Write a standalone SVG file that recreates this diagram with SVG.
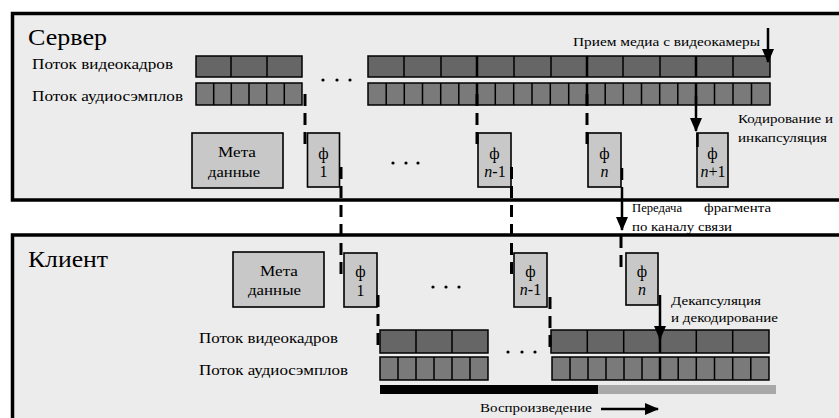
<svg xmlns="http://www.w3.org/2000/svg" width="839" height="418" viewBox="0 0 839 418">
<defs>
<style>
.t{font-family:"Liberation Serif","DejaVu Serif",serif;fill:#000}
.s13{font-size:13px}
.s14{font-size:14px}
.s15{font-size:15px}
.s16{font-size:16px}
.big{font-size:24px}
.panel{fill:#ececec;stroke:#000;stroke-width:3.5}
.vid{fill:#666;stroke:#000;stroke-width:1.5}
.aud{fill:#7a7a7a;stroke:#000;stroke-width:1.5}
.sep{fill:none;stroke:#000;stroke-width:1.5}
.fb{fill:none;stroke:#000;stroke-width:2.5}
.frag{fill:#c8c8c8;stroke:#000;stroke-width:1.6}
.dash{fill:none;stroke:#000;stroke-width:3;stroke-dasharray:12 7}
.solid{fill:none;stroke:#000;stroke-width:2.5}
.arr{fill:none;stroke:#000;stroke-width:2.5;marker-end:url(#ah)}
.dot{fill:#000}
</style>
<marker id="ah" viewBox="0 0 14 12" refX="13" refY="6" markerWidth="14" markerHeight="12" markerUnits="userSpaceOnUse" orient="auto">
<path d="M0,0 L14,6 L0,12 z" fill="#000"/>
</marker>
</defs>
<rect width="839" height="418" fill="#fff"/>

<g id="server">
<rect class="panel" x="12.5" y="13.5" width="840" height="186.5"/>
<text class="t big" x="28" y="45" textLength="79" lengthAdjust="spacingAndGlyphs">Сервер</text>
<text class="t s14" x="32" y="69" textLength="141" lengthAdjust="spacingAndGlyphs">Поток видеокадров</text>
<text class="t s14" x="32" y="101" textLength="151" lengthAdjust="spacingAndGlyphs">Поток аудиосэмплов</text>
<text class="t s13" x="573" y="46" textLength="187" lengthAdjust="spacingAndGlyphs">Прием медиа с видеокамеры</text>
<text class="t s13" x="738" y="123" textLength="95" lengthAdjust="spacingAndGlyphs">Кодирование и</text>
<text class="t s13" x="738" y="142" textLength="89" lengthAdjust="spacingAndGlyphs">инкапсуляция</text>
</g>

<g id="server-video">
<rect class="vid" x="196" y="56" width="106" height="21"/>
<path class="sep" d="M231,56V77M267,56V77"/>
<rect class="vid" x="368" y="56" width="402" height="21"/>
<path class="sep" d="M404,56V77M441,56V77M514,56V77M551,56V77M623,56V77M660,56V77M733,56V77"/>
<path class="fb" d="M477,56V77M587,56V77M696,56V77"/>
</g>

<g id="server-audio">
<rect class="aud" x="196" y="83" width="106" height="22"/>
<path class="sep" d="M213.7,83V105M231.3,83V105M249,83V105M266.7,83V105M284.3,83V105"/>
<rect class="aud" x="368" y="83" width="402" height="22"/>
<path class="sep" d="M386.2,83V105M404.3,83V105M422.5,83V105M440.7,83V105M458.8,83V105M495.3,83V105M513.7,83V105M532,83V105M550.3,83V105M568.7,83V105M605.2,83V105M623.3,83V105M641.5,83V105M659.7,83V105M677.8,83V105M714.5,83V105M733,83V105M751.5,83V105"/>
<path class="fb" d="M477,83V105M587,83V105M696,83V105"/>
</g>

<g id="server-dots">
<circle class="dot" cx="323" cy="80" r="1.6"/><circle class="dot" cx="337" cy="80" r="1.6"/><circle class="dot" cx="350" cy="80" r="1.6"/>
<circle class="dot" cx="393" cy="163" r="1.6"/><circle class="dot" cx="406" cy="163" r="1.6"/><circle class="dot" cx="418" cy="163" r="1.6"/>
</g>

<g id="s-meta">
<rect class="frag" x="192" y="133" width="91" height="55"/>
<text class="t s15" x="218" y="157" textLength="38" lengthAdjust="spacingAndGlyphs">Мета</text>
<text class="t s15" x="208" y="177" textLength="52" lengthAdjust="spacingAndGlyphs">данные</text>
</g>
<g id="s-f1">
<rect class="frag" x="307.5" y="133" width="32" height="54"/>
<text class="t s16" x="323.5" y="159" text-anchor="middle" font-size="17">ф</text>
<text class="t s16" x="323.5" y="177" text-anchor="middle">1</text>
</g>
<g id="s-fn1">
<rect class="frag" x="478" y="133" width="33" height="54"/>
<text class="t s16" x="494.5" y="159" text-anchor="middle" font-size="17">ф</text>
<text class="t s16" x="495" y="177" text-anchor="middle"><tspan font-style="italic">n</tspan>-1</text>
</g>
<g id="s-fn">
<rect class="frag" x="588" y="133" width="33" height="54"/>
<text class="t s16" x="604.5" y="159" text-anchor="middle" font-size="17">ф</text>
<text class="t s16" x="604.5" y="177" text-anchor="middle" font-style="italic">n</text>
</g>
<g id="s-fnp1">
<rect class="frag" x="697" y="133" width="31" height="54"/>
<text class="t s16" x="712.5" y="159" text-anchor="middle" font-size="17">ф</text>
<text class="t s16" x="713" y="177" text-anchor="middle"><tspan font-style="italic">n</tspan>+1</text>
</g>

<g id="client">
<rect class="panel" x="12.5" y="235" width="840" height="200"/>
<text class="t big" x="28" y="267" textLength="80" lengthAdjust="spacingAndGlyphs">Клиент</text>
<text class="t s14" x="199" y="343" textLength="139" lengthAdjust="spacingAndGlyphs">Поток видеокадров</text>
<text class="t s14" x="199" y="375" textLength="149" lengthAdjust="spacingAndGlyphs">Поток аудиосэмплов</text>
<text class="t s13" x="671" y="305" textLength="90" lengthAdjust="spacingAndGlyphs">Декапсуляция</text>
<text class="t s13" x="671" y="322" textLength="107" lengthAdjust="spacingAndGlyphs">и декодирование</text>
<text class="t s13" x="480" y="412" textLength="112" lengthAdjust="spacingAndGlyphs">Воспроизведение</text>
</g>

<g id="transfer-label">
<text class="t s13" y="212"><tspan x="632" textLength="50" lengthAdjust="spacingAndGlyphs">Передача</tspan><tspan x="704" textLength="67" lengthAdjust="spacingAndGlyphs">фрагмента</tspan></text>
<text class="t s13" x="632" y="231" textLength="100" lengthAdjust="spacingAndGlyphs">по каналу связи</text>
</g>

<g id="c-meta">
<rect class="frag" x="233" y="252" width="91" height="55"/>
<text class="t s15" x="260" y="276" textLength="38" lengthAdjust="spacingAndGlyphs">Мета</text>
<text class="t s15" x="248" y="295" textLength="53" lengthAdjust="spacingAndGlyphs">данные</text>
</g>
<g id="c-f1">
<rect class="frag" x="344" y="253" width="33" height="54"/>
<text class="t s16" x="360.5" y="277" text-anchor="middle" font-size="17">ф</text>
<text class="t s16" x="360.5" y="296" text-anchor="middle">1</text>
</g>
<g id="c-fn1">
<rect class="frag" x="514" y="253" width="33" height="54"/>
<text class="t s16" x="530.5" y="277" text-anchor="middle" font-size="17">ф</text>
<text class="t s16" x="530.5" y="295" text-anchor="middle"><tspan font-style="italic">n</tspan>-1</text>
</g>
<g id="c-fn">
<rect class="frag" x="626" y="253" width="32" height="52"/>
<text class="t s16" x="642" y="277" text-anchor="middle" font-size="17">ф</text>
<text class="t s16" x="642" y="295" text-anchor="middle" font-style="italic">n</text>
</g>

<g id="client-dots">
<circle class="dot" cx="433" cy="287" r="1.6"/><circle class="dot" cx="446" cy="287" r="1.6"/><circle class="dot" cx="459" cy="287" r="1.6"/>
<circle class="dot" cx="508" cy="352" r="1.6"/><circle class="dot" cx="522" cy="352" r="1.6"/><circle class="dot" cx="535" cy="352" r="1.6"/>
</g>

<g id="client-video">
<rect class="vid" x="380" y="330" width="108" height="23"/>
<path class="sep" d="M416,330V353M452,330V353"/>
<rect class="vid" x="551" y="330" width="218" height="23"/>
<path class="sep" d="M587.3,330V353M623.7,330V353M696.3,330V353M732.7,330V353"/>
<path class="fb" d="M660,330V353"/>
</g>

<g id="client-audio">
<rect class="aud" x="380" y="357" width="108" height="23"/>
<path class="sep" d="M398,357V380M416,357V380M434,357V380M452,357V380M470,357V380"/>
<rect class="aud" x="552" y="357" width="217" height="23"/>
<path class="sep" d="M570,357V380M588,357V380M606,357V380M624,357V380M642,357V380M678.2,357V380M696.3,357V380M714.5,357V380M732.7,357V380M750.8,357V380"/>
<path class="fb" d="M660,357V380"/>
</g>

<g id="playback">
<rect x="380" y="385" width="218" height="9" fill="#000"/>
<rect x="598" y="385" width="178" height="9" fill="#a8a8a8"/>
</g>

<g id="connectors">
<path class="arr" d="M768,28V62"/>
<path class="dash" d="M305,94V147"/>
<path class="dash" d="M477,94V147"/>
<path class="dash" d="M587,94V147"/>
<path class="arr" d="M696,96V131"/>
<path class="solid" stroke-width="3" d="M697.5,133V147"/>
<path class="dash" d="M341,167V274"/>
<path class="dash" d="M511.5,167V274"/>
<path class="solid" stroke-width="3" d="M622,168V180"/>
<path class="arr" d="M622,187V230"/>
<path class="dash" d="M621,236V272"/>
<path class="dash" d="M378,295V348"/>
<path class="dash" d="M550,297V348"/>
<path class="arr" d="M660,295V339"/>
<path class="arr" d="M601,409H658"/>
</g>
</svg>
